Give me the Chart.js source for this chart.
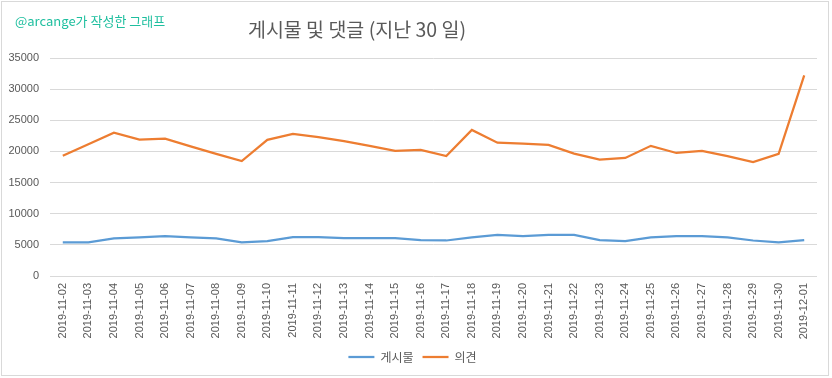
<!DOCTYPE html>
<html><head><meta charset="utf-8">
<script src="https://cdn.jsdelivr.net/npm/chart.js@4"></script>
<style>html,body{margin:0;padding:0;background:#fff;}#wrap{width:832px;height:378px;position:relative;}</style>
</head><body>
<div id="wrap"><canvas id="c" width="832" height="378"></canvas></div>
<script>
const categories = ["2019-11-02","2019-11-03","2019-11-04","2019-11-05","2019-11-06","2019-11-07","2019-11-08","2019-11-09","2019-11-10","2019-11-11","2019-11-12","2019-11-13","2019-11-14","2019-11-15","2019-11-16","2019-11-17","2019-11-18","2019-11-19","2019-11-20","2019-11-21","2019-11-22","2019-11-23","2019-11-24","2019-11-25","2019-11-26","2019-11-27","2019-11-28","2019-11-29","2019-11-30","2019-12-01"];
const posts = [5400,5400,6050,6200,6400,6200,6050,5400,5600,6250,6250,6100,6100,6100,5750,5700,6200,6600,6400,6600,6600,5750,5600,6200,6400,6400,6200,5700,5400,5750];
const comments = [19300,21150,23000,21900,22050,20800,19600,18450,21850,22800,22300,21650,20900,20100,20250,19250,23450,21400,21250,21050,19650,18700,18950,20900,19750,20100,19250,18300,19600,32200];
const seriesNames = ["게시물","의견"];
const yTicks = [0,5000,10000,15000,20000,25000,30000,35000];
const titleText = "게시물 및 댓글 (지난 30 일)";
const creditText = "@arcange가 작성한 그래프";

const txt = '#595959';
const fontFam = "'Noto Sans CJK KR','Noto Sans',sans-serif";

const decor = {
  id: 'decor',
  beforeDraw(chart) {
    const ctx = chart.ctx;
    ctx.save();
    ctx.fillStyle = '#fff';
    ctx.fillRect(0,0,chart.width,chart.height);
    ctx.strokeStyle = '#d9d9d9';
    ctx.lineWidth = 1;
    ctx.strokeRect(1.5,1.5,827,374);
    ctx.restore();
  },
  afterDraw(chart) {
    const ctx = chart.ctx;
    ctx.save();
    ctx.textBaseline = 'alphabetic';
    ctx.fillStyle = '#1fbf9f';
    ctx.font = "13px " + fontFam;
    ctx.textAlign = 'left';
    ctx.fillText(creditText, 15, 26);
    ctx.fillStyle = txt;
    ctx.font = "19.5px " + fontFam;
    ctx.textAlign = 'center';
    ctx.fillText(titleText, 357, 37);
    ctx.restore();
  }
};

new Chart(document.getElementById('c'), {
  type: 'line',
  data: {
    labels: categories,
    datasets: [
      {label: seriesNames[0], data: posts, borderColor: '#5B9BD5', backgroundColor: '#5B9BD5', borderWidth: 2.25, pointRadius: 0, tension: 0},
      {label: seriesNames[1], data: comments, borderColor: '#ED7D31', backgroundColor: '#ED7D31', borderWidth: 2.25, pointRadius: 0, tension: 0}
    ]
  },
  options: {
    responsive: false,
    animation: false,
    layout: {padding: {left: 8, right: 15, top: 58, bottom: 5}},
    plugins: {
      legend: {
        position: 'bottom',
        labels: {
          usePointStyle: true, pointStyle: 'line', pointStyleWidth: 26, boxHeight: 10,
          color: txt, font: {family: fontFam, size: 12}, padding: 9
        }
      },
      tooltip: {enabled: false},
      title: {display: false}
    },
    scales: {
      x: {
        offset: true,
        grid: {display: false, drawTicks: false},
        border: {display: false},
        ticks: {color: txt, font: {family: "'Liberation Sans',Arial,sans-serif", size: 11}, maxRotation: 90, minRotation: 90, autoSkip: false, padding: 7},
        afterFit(s) { s.height = 66; }
      },
      y: {
        min: 0, max: 35000,
        afterBuildTicks(s) { s.ticks = yTicks.map(v => ({value: v})); },
        grid: {color: '#d9d9d9', drawTicks: false, lineWidth: 1},
        border: {display: false},
        ticks: {color: txt, font: {family: "'Liberation Sans',Arial,sans-serif", size: 11}, padding: 11, callback: v => String(v)},
        afterFit(s) { s.width = 42; }
      }
    }
  },
  plugins: [decor]
});
</script>
</body></html>
